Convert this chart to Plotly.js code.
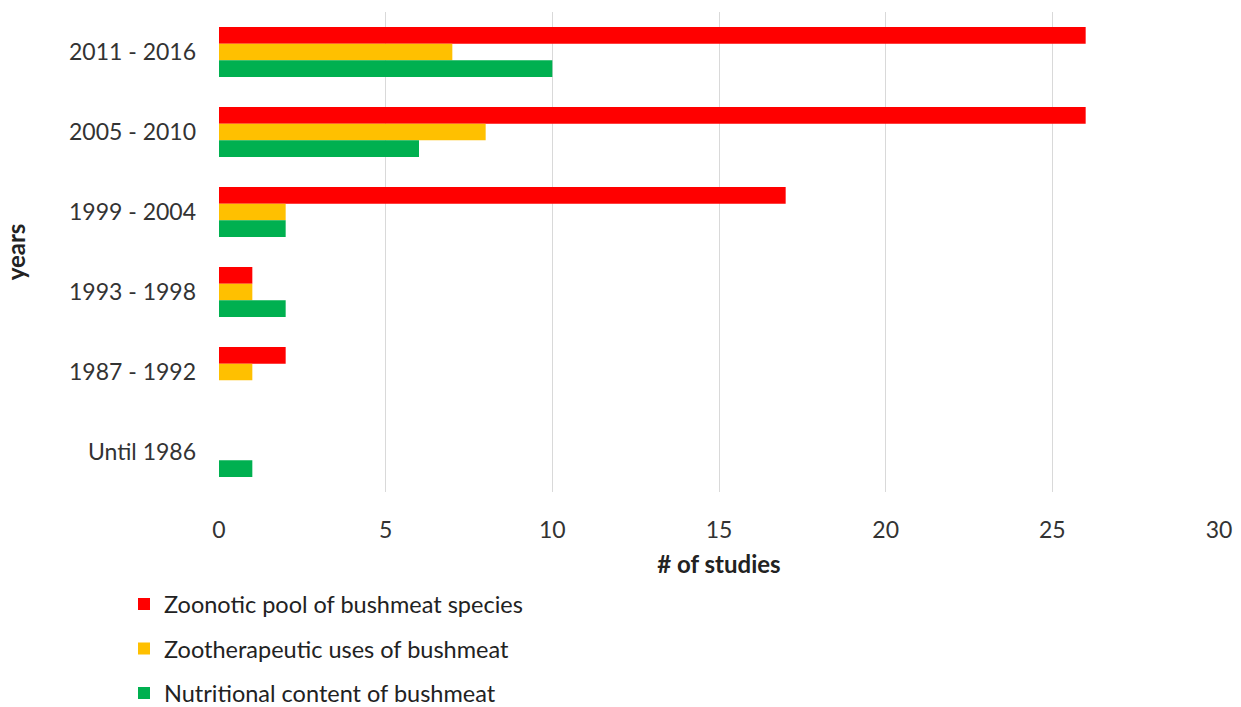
<!DOCTYPE html>
<html>
<head>
<meta charset="utf-8">
<script src="https://cdn.plot.ly/plotly-3.0.1.min.js"></script>
<style>html,body{margin:0;padding:0;background:#fff;}#chart{width:1241px;height:707px;}</style>
</head>
<body>
<div id="chart"></div>
<script>
const categories = ["2011 - 2016", "2005 - 2010", "1999 - 2004", "1993 - 1998", "1987 - 1992", "Until 1986"];
const seriesNames = ["Zoonotic pool of bushmeat species", "Zootherapeutic uses of bushmeat", "Nutritional content of bushmeat"];
const zoonotic = [26, 26, 17, 1, 2, 0];
const zootherapeutic = [7, 8, 2, 1, 1, 0];
const nutritional = [10, 6, 2, 2, 0, 1];
const xTicks = [0, 5, 10, 15, 20, 25, 30];
const colors = ["#FF0000", "#FFC000", "#00B050"];
const values = [zoonotic, zootherapeutic, nutritional];

const FONT = "Lato, 'Open Sans', sans-serif";
const traces = values.map((v, i) => ({
  type: "bar",
  orientation: "h",
  name: seriesNames[i],
  y: categories,
  x: v,
  marker: {color: colors[i]},
  legendgroup: "g" + i,
  hoverinfo: "x"
}));

const layout = {
  width: 1241, height: 707,
  margin: {l: 219, r: 22, t: 12, b: 215, autoexpand: false},
  paper_bgcolor: "#fff", plot_bgcolor: "#fff",
  font: {family: FONT, size: 23, color: "#333"},
  barmode: "group",
  bargap: 0.375,
  bargroupgap: 0,
  showlegend: true,
  legend: {
    orientation: "v", x: -0.095, xanchor: "left", y: -0.188, yanchor: "top",
    tracegroupgap: 11, font: {family: FONT, size: 23.5, color: "#222"},
    bgcolor: "rgba(0,0,0,0)"
  },
  xaxis: {
    range: [0, 30], tickvals: xTicks, ticktext: xTicks.map(String),
    showgrid: true, gridcolor: "#d9d9d9", gridwidth: 1,
    zeroline: false, showline: false, ticks: "",
    ticklabelstandoff: 22, automargin: false,
    title: {text: "<b># of studies</b>", font: {family: FONT, size: 24, color: "#222"}, standoff: 14}
  },
  yaxis: {
    type: "category", autorange: "reversed",
    categoryorder: "array", categoryarray: categories,
    showgrid: false, zeroline: false, showline: false, ticks: "",
    ticklabelstandoff: 22, automargin: false,
    title: {text: "<b>years</b>", font: {family: FONT, size: 24, color: "#222"}, standoff: 36}
  }
};

Plotly.newPlot("chart", traces, layout, {displayModeBar: false, staticPlot: true});
</script>
</body>
</html>
